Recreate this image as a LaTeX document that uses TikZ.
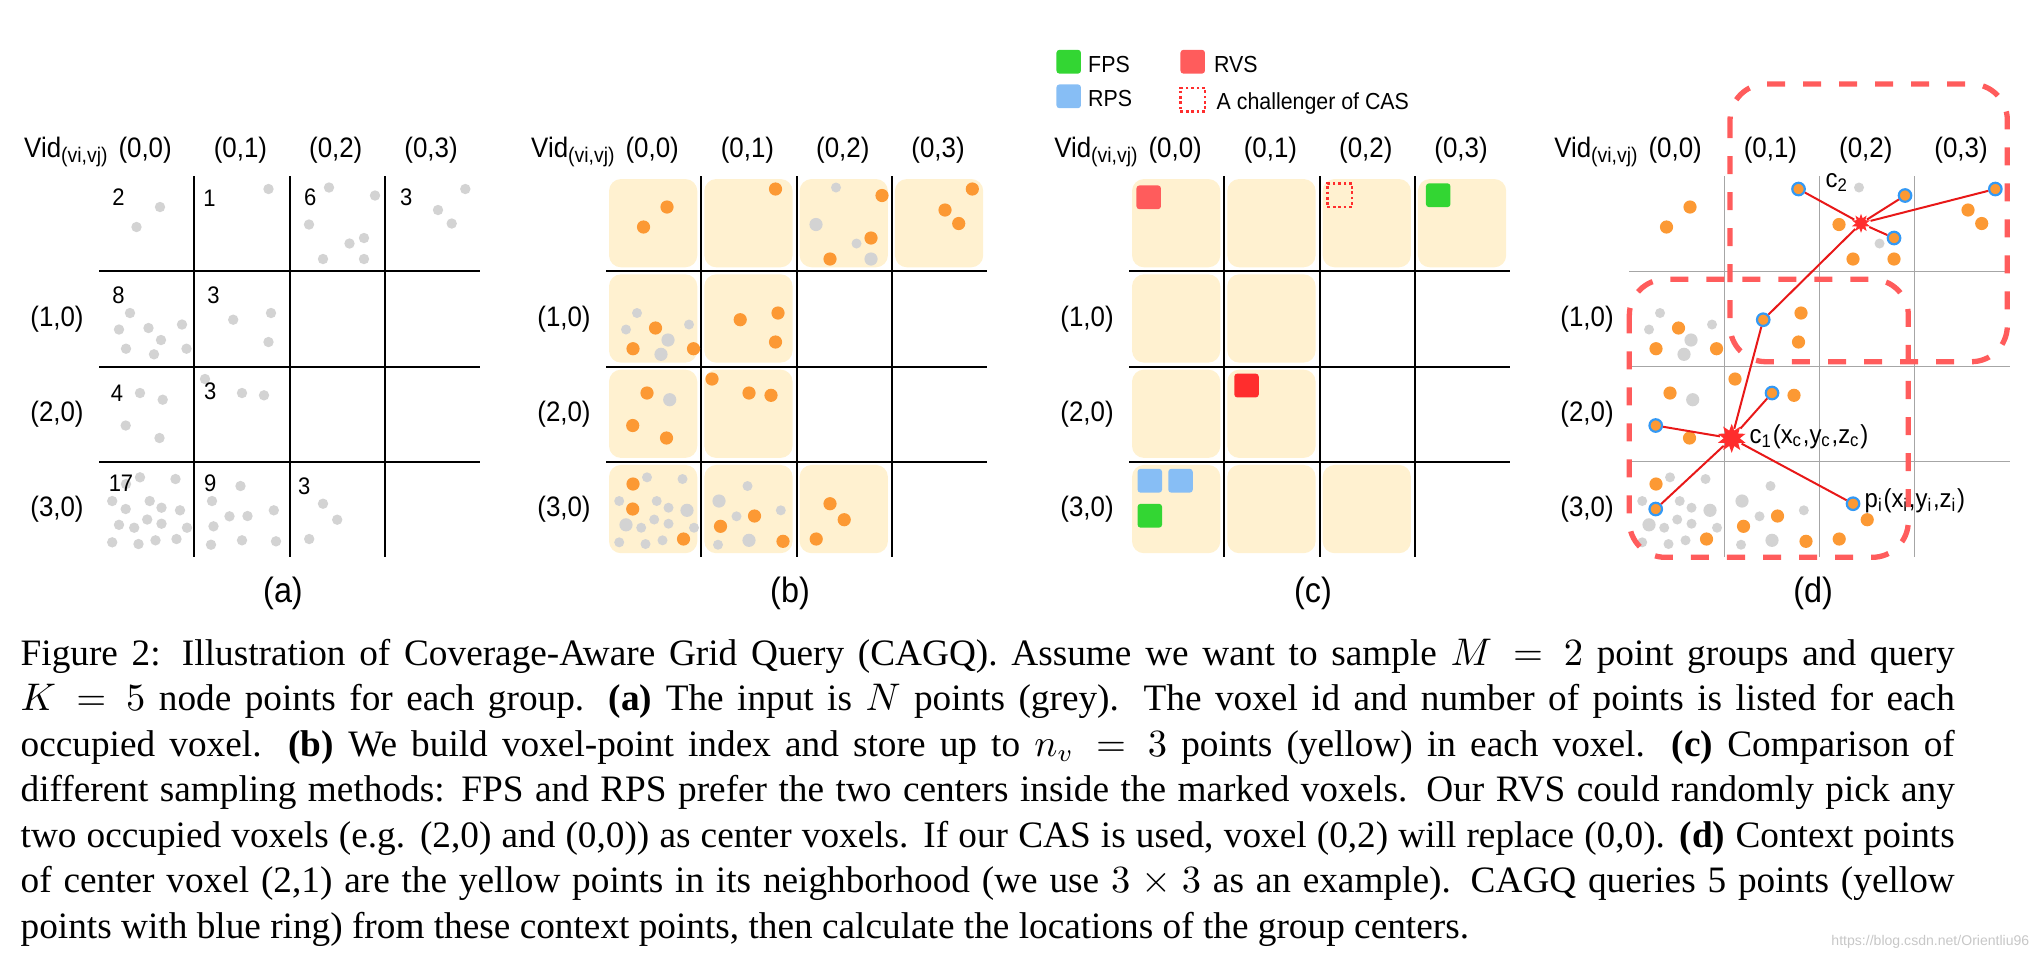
\documentclass[tikz,border=0pt]{standalone}
\usepackage{fontspec}
\setmainfont{Liberation Serif}
\newfontfamily\panelfont{Liberation Sans}[FakeStretch=0.92]
\newfontfamily\markfont{Liberation Sans}
\usepackage{tikz}
\usetikzlibrary{shapes.geometric}

\definecolor{ptgray}{RGB}{211,211,211}
\definecolor{ptorange}{RGB}{252,153,52}
\definecolor{voxelyellow}{RGB}{255,241,208}
\definecolor{fpsgreen}{RGB}{51,214,51}
\definecolor{rpsblue}{RGB}{135,190,245}
\definecolor{rvsred}{RGB}{255,92,92}
\definecolor{hotred}{RGB}{255,45,45}
\definecolor{ringblue}{RGB}{51,153,245}
\definecolor{linkred}{RGB}{232,24,24}

\tikzstyle{gridline} = [line width=0.02cm, black]
\tikzstyle{thingrid} = [line width=0.01cm, black!35]
\tikzstyle{voxel} = [fill=voxelyellow, rounded corners=0.12cm]
\tikzstyle{hdr} = [font=\fontsize{8}{9.6}\panelfont, inner sep=0]
\tikzstyle{count} = [font=\fontsize{6.8}{8}\panelfont, inner sep=0]
\tikzstyle{legendtext} = [font=\fontsize{6.6}{8}\panelfont, inner sep=0, anchor=base west]
\tikzstyle{ptlabel} = [font=\fontsize{7.4}{9}\panelfont, inner sep=0, anchor=base west]
\tikzstyle{tag} = [font=\fontsize{10}{12}\panelfont, inner sep=0]
\tikzstyle{dotg} = [fill=ptgray, radius=0.05cm]
\tikzstyle{dotG} = [fill=ptgray, radius=0.066cm]
\tikzstyle{doto} = [fill=ptorange, radius=0.066cm]
\tikzstyle{key} = [rectangle, rounded corners=0.03cm, minimum width=0.245cm,
  minimum height=0.238cm, inner sep=0]
\tikzstyle{challenger} = [rectangle, draw=hotred, line width=0.025cm,
  dash pattern=on 0.027cm off 0.027cm, minimum width=0.245cm,
  minimum height=0.238cm, inner sep=0]
\tikzstyle{ring} = [circle, fill=ptorange, draw=ringblue, line width=0.022cm,
  minimum size=0.125cm, inner sep=0]
\tikzstyle{burst} = [star, star points=10, star point ratio=1.8, fill=hotred,
  inner sep=0]
\tikzstyle{link} = [linkred, line width=0.02cm]
\tikzstyle{nbhd} = [rvsred, line width=0.053cm, dash pattern=on 0.18cm off 0.18cm,
  rounded corners=0.36cm]
\tikzstyle{caption} = [anchor=north west, text width=19.33cm, align=justify,
  inner sep=0, font=\fontsize{10.6}{12.95}\selectfont]

% voxel size in pixels
\def\vsz{95.3}
% point positions inside a 4x4 voxel panel: x/y/kind
\def\voxelpts{61/31/o, 37.5/51/o, 169.5/13/o, 230/11.5/g, 276/19.5/o, 210/48.5/h,
  265/62/o, 250.5/67.5/g, 224/83/o, 265/83/h, 366.3/13/o, 339/34/o, 352.7/47.5/o,
  31/137/g, 20/153.5/g, 49.5/152/o, 83/148.5/g, 62/164/G, 27/172.7/o, 55/178.3/G,
  87.5/172.7/o, 134.2/143.7/o, 172/137/o, 169.5/166/o, 41/217/o, 63.7/223.7/G,
  26.7/249.5/o, 60.5/262/o, 106/203/o, 143/217/o, 165/219.3/o, 27/308/o,
  41/301.3/g, 76.5/303/g, 13.2/325/g, 50.7/325/g, 26.7/333/o, 62.5/331.7/g,
  81/334.3/G, 20/348.8/G, 48.2/343.5/g, 62.5/347.7/g, 35.2/351.7/g, 88/351.7/g,
  13.2/366.3/g, 39.5/368/g, 56.5/364.3/g, 77.5/363/o, 141.5/310/g, 113/325/G,
  130.5/340.3/g, 148.5/340/o, 174.8/334.3/g, 114.5/350.3/o, 143/364.3/G,
  177/365.3/o, 112/368.7/g, 224/327.7/o, 238.2/343.7/o, 210.2/363/o}

\newcommand{\voxelgrid}[1]{%
  \foreach \k in {1,2,3} {
    \draw[#1] (0,\k*\vsz) -- (4*\vsz,\k*\vsz);
    \draw[#1] (\k*\vsz,0) -- (\k*\vsz,4*\vsz);
  }}
\newcommand{\voxelboxes}{%
  \foreach \r/\c in {0/0,0/1,0/2,0/3,1/0,1/1,2/0,2/1,3/0,3/1,3/2}
    \fill[voxel] ({\c*\vsz+3},{\r*\vsz+3}) rectangle ({(\c+1)*\vsz-4},{(\r+1)*\vsz-4});
}
\newcommand{\voxelheads}[1]{%
  \node[hdr, anchor=base east] (vid) at (11,-19) {Vid\textsubscript{(vi,vj)}};
  \foreach \c in {0,...,3}
    \node[hdr, anchor=base] (col\c) at ({(\c+0.5)*\vsz-1.5},-19) {(0,\c)};
  \foreach \r in {1,2,3}
    \node[hdr] (row\r) at (-42,{(\r+0.5)*\vsz}) {(\r,0)};
  \node[tag] (tag) at (184,417) {(#1)};
}

\begin{document}
\begin{tikzpicture}[x=0.01cm, y=-0.01cm]
  \useasboundingbox (0,0) rectangle (2040,959);

  % (a) input points and counts
  \begin{scope}[shift={(99,176)}, name prefix=a-]
    \voxelgrid{gridline}
    \foreach \px/\py/\pt in \voxelpts
      \fill[ptgray] (\px,\py) circle[radius=0.052cm];
    \foreach \x/\y/\n [count=\i] in {19.6/20.7/2, 110.6/22.3/1, 211.3/21.3/6,
        307.3/21.3/3, 19.6/119/8, 114.6/119/3, 18/217.3/4, 111.3/215.7/3,
        22/307.3/17, 111.3/307.3/9, 205.3/310.7/3}
      \node[count] (n\i) at (\x,\y) {\n};
    \voxelheads{a}
  \end{scope}

  % (b) voxel-point index
  \begin{scope}[shift={(606,176)}, name prefix=b-, doth/.style={dotG}]
    \voxelboxes
    \voxelgrid{gridline}
    \foreach \px/\py/\pt in \voxelpts
      \fill[dot\pt] (\px,\py) circle;
    \voxelheads{b}
  \end{scope}

  % (c) sampling methods
  \begin{scope}[shift={(1129,176)}, name prefix=c-]
    \voxelboxes
    \voxelgrid{gridline}
    \node[key, fill=rvsred] (rvs1) at (19.7,21.3) {};
    \node[challenger] (cas) at (210.7,19.3) {};
    \node[key, fill=fpsgreen] (fps1) at (309.2,19.2) {};
    \node[key, fill=hotred] (rvs2) at (117.5,209.5) {};
    \node[key, fill=rpsblue] (rps1) at (20.8,304.7) {};
    \node[key, fill=rpsblue] (rps2) at (51.5,304.7) {};
    \node[key, fill=fpsgreen] (fps2) at (20.8,339.7) {};
    % Legend
    \node[key, fill=fpsgreen] (kfps) at (-60.3,-114.3) {};
    \node[key, fill=rpsblue] (krps) at (-60.3,-79.7) {};
    \node[key, fill=rvsred] (krvs) at (63.7,-114.3) {};
    \node[challenger] (kcas) at (63.7,-76.3) {};
    \node[legendtext] (tfps) at (-41.5,-103.7) {FPS};
    \node[legendtext] (trps) at (-41.5,-69.3) {RPS};
    \node[legendtext] (trvs) at (84.3,-103.7) {RVS};
    \node[legendtext] (tcas) at (87,-67) {A challenger of CAS};
    \voxelheads{c}
  \end{scope}

  % (d) grid query
  \begin{scope}[shift={(1629,176)}, name prefix=d-, doth/.style={doto}]
    \voxelgrid{thingrid}
    \foreach \px/\py/\pt in \voxelpts
      \fill[dot\pt] (\px,\py) circle;
    % queried points
    \foreach \x/\y/\name in {169.5/13/ra, 276/19.5/rb, 265/62/rc, 366.3/13/rd,
        134.2/143.7/re, 143/217/rf, 26.7/249.5/rg, 26.7/333/rh, 224/327.7/ri}
      \node[ring] (\name) at (\x,\y) {};
    % group centers
    \node[burst, minimum size=0.19cm] (c2) at (232,47.3) {};
    \node[burst, minimum size=0.29cm] (c1) at (102.7,262.3) {};
    \foreach \p in {ra,rb,rc,rd,re}
      \draw[link] (c2) -- (\p);
    \foreach \p in {re,rf,rg,rh,ri}
      \draw[link] (c1) -- (\p);
    \node[ptlabel] (c2lab) at (196,11.5) {c\textsubscript{2}};
    \node[ptlabel] (c1lab) at (120,267) {c\textsubscript{1}(x\textsubscript{c},y\textsubscript{c},z\textsubscript{c})};
    \node[ptlabel] (pilab) at (235,331) {p\textsubscript{i}(x\textsubscript{i},y\textsubscript{i},z\textsubscript{i})};
    % neighbourhoods
    \draw[nbhd] (101,-92) rectangle (378.3,185.7);
    \draw[nbhd] (0.3,103.3) rectangle (279.3,381.3);
    \voxelheads{d}
  \end{scope}

  % Caption
  \node[caption] (cap) at (20,638) {Figure 2: Illustration of Coverage-Aware Grid Query (CAGQ). Assume we want to sample $M = 2$ point groups and query\linebreak
  $K = 5$ node points for each group. \textbf{(a)} The input is $N$ points (grey). The voxel id and number of points is listed for each\linebreak
  occupied voxel. \textbf{(b)} We build voxel-point index and store up to $n_v = 3$ points (yellow) in each voxel. \textbf{(c)} Comparison of\linebreak
  different sampling methods: FPS and RPS prefer the two centers inside the marked voxels. Our RVS could randomly pick any\linebreak
  two occupied voxels (e.g. (2,0) and (0,0)) as center voxels. If our CAS is used, voxel (0,2) will replace (0,0). \textbf{(d)} Context points\linebreak
  of center voxel (2,1) are the yellow points in its neighborhood (we use $3 \times 3$ as an example). CAGQ queries 5 points (yellow\linebreak
  points with blue ring) from these context points, then calculate the locations of the group centers.};
  \node[font=\fontsize{4}{5}\markfont, text=black!22, inner sep=0, anchor=base east] (mark) at (2030,945) {https://blog.csdn.net/Orientliu96};
\end{tikzpicture}
\end{document}
